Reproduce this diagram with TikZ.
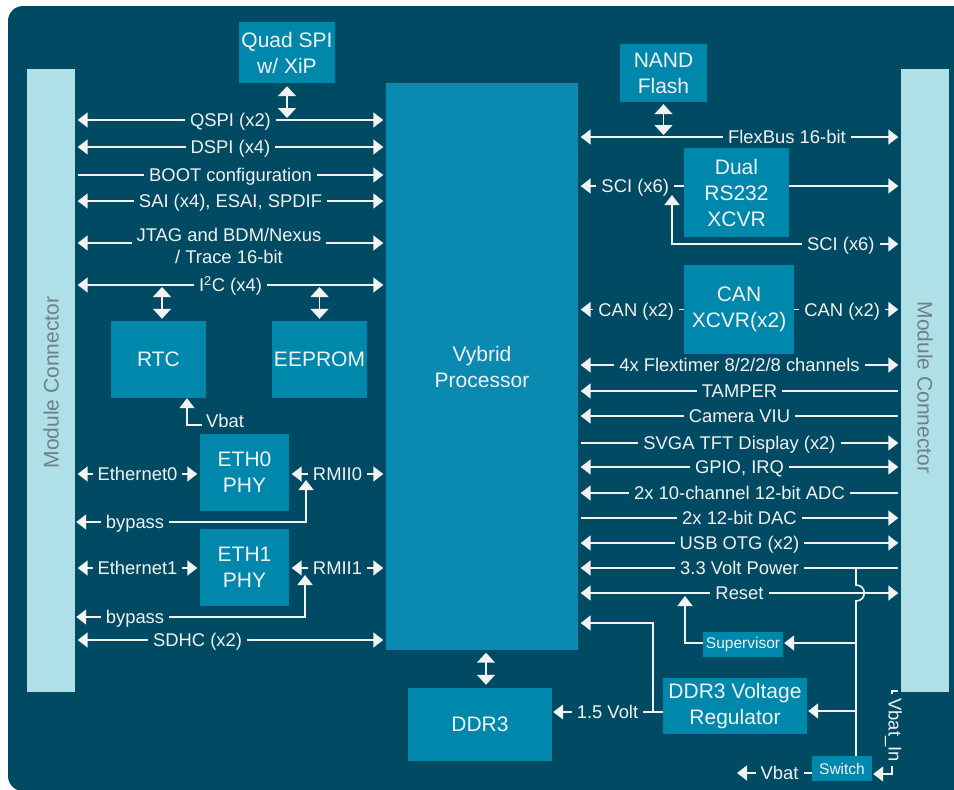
\documentclass[tikz,border=0pt]{standalone}
\usepackage{fontspec}
\setmainfont{Liberation Sans}
\usetikzlibrary{arrows.meta}
\definecolor{bg}{HTML}{004B63}
\definecolor{procc}{HTML}{0A8AB0}
\definecolor{boxc}{HTML}{0087AC}
\definecolor{conn}{HTML}{AFE0E7}
\definecolor{fg}{HTML}{F2F2F2}
\definecolor{conntext}{HTML}{6E8087}
\begin{document}
\begin{tikzpicture}[x=1pt,y=-1pt,
  >={Triangle[length=10pt,width=15pt]},
  ln/.style={draw=fg, line width=1.6pt},
  rowgap/.style={shorten <=2.5pt, shorten >=2.5pt},
  lbl/.style={fill=bg, text=fg, font=\fontsize{18.4}{22}\selectfont, inner xsep=5pt, inner ysep=1pt, text height=13pt, text depth=0pt},
  lbltwo/.style={fill=bg, text=fg, font=\fontsize{18.4}{22}\selectfont, inner xsep=5pt, inner ysep=1pt, align=center},
  blk/.style={fill=boxc, text=fg, font=\fontsize{21}{26}\selectfont, align=center, inner sep=0pt},
  smallbox/.style={fill=boxc, text=fg, font=\fontsize{15.5}{18}\selectfont, inner sep=0pt},
  connbox/.style={fill=conn, inner sep=0pt, minimum width=48pt, minimum height=623pt},
  conntxt/.style={text=conntext, font=\fontsize{21}{25}\selectfont},
  vv/.style={ln, {Triangle[length=10pt,width=18pt]}-{Triangle[length=10pt,width=18pt]}},
]
\useasboundingbox (0,0) rectangle (954,790);
\fill[bg, rounded corners=15pt] (8,6) rectangle (975,791);

% connectors and blocks
\node[connbox] (lmc) at (51,380.5) {};
\node[connbox] (rmc) at (925,380.5) {};
\node[conntxt, rotate=90] at (51,382.5) {Module Connector};
\node[conntxt, rotate=-90] at (925,387.5) {Module Connector};

\node[fill=procc, text=fg, font=\fontsize{21}{26}\selectfont, align=center, inner sep=0pt,
      minimum width=192pt, minimum height=567pt] (proc) at (482,366.5) {Vybrid\\Processor};

\node[blk, minimum width=96pt, minimum height=61pt] (qspi) at (287,52.5) {Quad SPI\\w/ XiP};
\node[blk, minimum width=87pt, minimum height=58pt] (nand) at (663.5,73) {NAND\\Flash};
\node[blk, minimum width=105pt, minimum height=89pt] (rs232) at (736.5,192.5) {Dual\\RS232\\XCVR};
\node[blk, minimum width=110pt, minimum height=89pt] (can) at (739,309.5) {CAN\\XCVR(x2)};
\node[blk, minimum width=95pt, minimum height=77pt] (rtc) at (158.5,359.5) {RTC};
\node[blk, minimum width=95pt, minimum height=77pt] (eeprom) at (319.5,359.5) {EEPROM};
\node[blk, minimum width=89pt, minimum height=77pt] (eth0) at (244.5,472.5) {ETH0\\PHY};
\node[blk, minimum width=89pt, minimum height=77pt] (eth1) at (244.5,567.5) {ETH1\\PHY};
\node[blk, minimum width=144pt, minimum height=73pt] (ddr3) at (480,724.5) {DDR3};
\node[blk, minimum width=144pt, minimum height=56pt] (reg) at (735,706) {DDR3 Voltage\\Regulator};
\node[smallbox, minimum width=80pt, minimum height=25pt] (sup) at (743,644.5) {Supervisor};
\node[smallbox, minimum width=60pt, minimum height=25pt] (sw) at (842,768.5) {Switch};

% left rows
\draw[ln,rowgap,<->] (lmc.east |- 0,120) -- (proc.west |- 0,120) node[midway,lbl]{QSPI (x2)};
\draw[ln,rowgap,<->] (lmc.east |- 0,147) -- (proc.west |- 0,147) node[midway,lbl]{DSPI (x4)};
\draw[ln,rowgap,->] (lmc.east |- 0,175) -- (proc.west |- 0,175) node[midway,lbl]{BOOT configuration};
\draw[ln,rowgap,<->] (lmc.east |- 0,201) -- (proc.west |- 0,201) node[midway,lbl]{SAI (x4), ESAI, SPDIF};
\draw[ln,rowgap,<->] (lmc.east |- 0,243) -- (proc.west |- 0,243);
\node[lbltwo] (jtag) at (229,246) {JTAG and BDM/Nexus\\/ Trace 16-bit};
\draw[ln,rowgap,<->] (lmc.east |- 0,285) -- (proc.west |- 0,285) node[midway,lbl]{I\textsuperscript{2}C (x4)};

\draw[vv, shorten <=3pt, shorten >=2pt] (qspi.south) -- (qspi.south |- 0,120);
\draw[vv, shorten <=2pt, shorten >=2pt] (162,285) -- (rtc.north -| 162,0);
\draw[vv, shorten <=2pt, shorten >=2pt] (eeprom.north |- 0,285) -- (eeprom.north);

\coordinate (vbatrtc) at (202,425);
\draw[ln,->] (vbatrtc) -| (rtc.south -| 187,0);
\node[text=fg, font=\fontsize{18.4}{22}\selectfont, anchor=west, inner sep=0pt] at (206,421) {Vbat};

\draw[ln,rowgap,<->] (lmc.east |- 0,474) -- (eth0.west |- 0,474) node[midway,lbl]{Ethernet0};
\draw[ln,rowgap,<->] (eth0.east |- 0,474) -- (proc.west |- 0,474) node[midway,lbl]{RMII0};
\draw[ln,<->, shorten >=1pt] (306,480) -- (306,522) -- (lmc.east |- 0,522);
\node[lbl] at (135,522) {bypass};

\draw[ln,rowgap,<->] (lmc.east |- 0,568) -- (eth1.west |- 0,568) node[midway,lbl]{Ethernet1};
\draw[ln,rowgap,<->] (eth1.east |- 0,568) -- (proc.west |- 0,568) node[midway,lbl]{RMII1};
\draw[ln,<->, shorten >=1pt] (305,575) -- (305,617) -- (lmc.east |- 0,617);
\node[lbl] at (135,617) {bypass};

\draw[ln,rowgap,<->] (lmc.east |- 0,640) -- (proc.west |- 0,640) node[pos=0.394,lbl]{SDHC (x2)};

\draw[vv, shorten <=2.5pt, shorten >=3pt] (proc.south -| 486,0) -- (ddr3.north -| 486,0);

% right rows
\draw[vv, shorten <=2pt] (nand.south) -- (nand.south |- 0,135);
\draw[ln,rowgap,<->] (proc.east |- 0,137) -- (rmc.west |- 0,137) node[pos=0.647,lbl]{FlexBus 16-bit};

\draw[ln,->,shorten >=2.5pt] (rs232.west |- 0,186) -- (proc.east |- 0,186) node[pos=0.46,lbl]{SCI (x6)};
\draw[ln,->,shorten >=2.5pt] (rs232.east |- 0,186) -- (rmc.west |- 0,186);
\draw[ln,<->,shorten >=2.5pt] (672,195) -- (672,244) -- (rmc.west |- 0,244) node[pos=0.738,lbl]{SCI (x6)};

\draw[ln,->,shorten >=2.5pt] (can.west) -- (proc.east |- can.west) node[pos=0.45,lbl]{CAN (x2)};
\draw[ln,->,shorten >=2.5pt] (can.east) -- (rmc.west |- can.east) node[pos=0.45,lbl]{CAN (x2)};

\draw[ln,rowgap,<->] (proc.east |- 0,365) -- (rmc.west |- 0,365) node[midway,lbl]{4x Flextimer 8/2/2/8 channels};
\draw[ln,rowgap,<-] (proc.east |- 0,391) -- (rmc.west |- 0,391) node[midway,lbl]{TAMPER};
\draw[ln,rowgap,<-] (proc.east |- 0,416) -- (rmc.west |- 0,416) node[midway,lbl]{Camera VIU};
\draw[ln,rowgap,->] (proc.east |- 0,443) -- (rmc.west |- 0,443) node[midway,lbl]{SVGA TFT Display (x2)};
\draw[ln,rowgap,<->] (proc.east |- 0,467) -- (rmc.west |- 0,467) node[midway,lbl]{GPIO, IRQ};
\draw[ln,rowgap,<-] (proc.east |- 0,493) -- (rmc.west |- 0,493) node[midway,lbl]{2x 10-channel 12-bit ADC};
\draw[ln,rowgap,->] (proc.east |- 0,518) -- (rmc.west |- 0,518) node[midway,lbl]{2x 12-bit DAC};
\draw[ln,rowgap,<->] (proc.east |- 0,543) -- (rmc.west |- 0,543) node[midway,lbl]{USB OTG (x2)};
\draw[ln,rowgap,<-] (proc.east |- 0,568) -- (rmc.west |- 0,568) node[midway,lbl]{3.3 Volt Power};
\draw[ln,rowgap,<->] (proc.east |- 0,593) -- (rmc.west |- 0,593) node[midway,lbl]{Reset};

% power tree
\coordinate (ptop) at (856,568);
\draw[ln] (ptop) -- (856,585) .. controls (867,585) and (867,601) .. (856,601) -- (sw.north -| 856,0);
\draw[ln,->,shorten >=1pt] (856,643) -- (sup.east |- 0,643);
\draw[ln,->,shorten >=1pt] (856,711) -- (reg.east |- 0,711);
\draw[ln,->] (sup.west |- 0,643) -| (685,596);
\draw[ln,->,shorten >=2.5pt] (reg.west |- 0,712) -- (653,712) |- (proc.east |- 0,623);
\draw[ln,->,shorten >=1pt] (reg.west |- 0,712) -- (ddr3.east |- 0,712) node[midway,lbl]{1.5 Volt};
\draw[ln,->] (sw.west |- 0,773) -- (737,773) node[pos=0.43,lbl]{Vbat};
\coordinate (vbin) at (898,691);
\draw[ln,->,shorten >=1pt] (vbin) -| (892,774) -- (sw.east |- 0,774);
\node[lbl, rotate=-90, text height=13pt, text depth=4pt, inner xsep=4pt] at (893,730) {Vbat\_In};
\end{tikzpicture}
\end{document}
